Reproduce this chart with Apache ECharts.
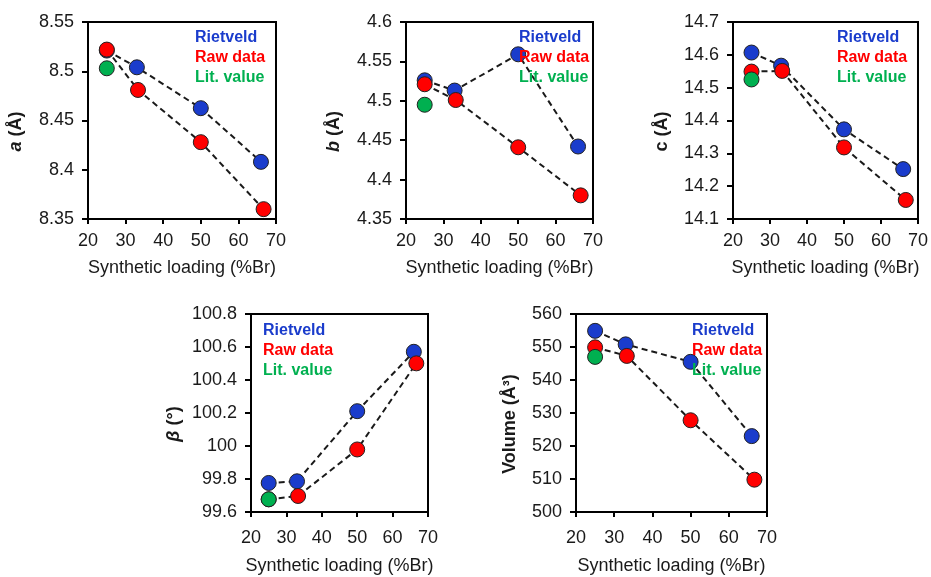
<!DOCTYPE html>
<html>
<head>
<meta charset="utf-8">
<script src="https://cdn.jsdelivr.net/npm/echarts@6/dist/echarts.min.js"></script>
<style>
  html, body { margin: 0; padding: 0; background: #fff; }
  #chart { width: 931px; height: 577px; }
</style>
</head>
<body>
<div id="chart"></div>
<script>
// ---- data ----
const rietX = [25, 33, 50, 66];
const rawX = [25, 33.3, 50, 66.7];
const litX = [25];

const aRiet = [8.521, 8.504, 8.4625, 8.408];
const aRaw = [8.522, 8.481, 8.428, 8.36];
const aLit = [8.503];

const bRiet = [4.526, 4.513, 4.559, 4.442];
const bRaw = [4.521, 4.501, 4.441, 4.38];
const bLit = [4.495];

const cRiet = [14.607, 14.567, 14.373, 14.252];
const cRaw = [14.549, 14.551, 14.318, 14.158];
const cLit = [14.525];

const betaRiet = [99.776, 99.786, 100.211, 100.571];
const betaRaw = [99.677, 99.697, 99.979, 100.501];
const betaLit = [99.677];

const volRiet = [554.9, 550.8, 545.5, 523.0];
const volRaw = [549.9, 547.3, 527.8, 509.8];
const volLit = [547.0];

const seriesNames = ['Rietveld', 'Raw data', 'Lit. value'];
const xAxisTitle = 'Synthetic loading (%Br)';

// ---- style ----
const FONT = '"Liberation Sans", Arial, sans-serif';
const COLORS = ['#1a3ccc', '#ff0000', '#00b050'];
const TEXT = '#1a1a1a';

const panels = [
  { name: '{i|a} (Å)', riet: aRiet, raw: aRaw, lit: aLit, min: 8.35, max: 8.55, interval: 0.05,
    grid: { left: 88, top: 22, width: 188, height: 197 }, nameGap: 63, xNameGap: 40, xMargin: 13,
    legend: { left: 190, top: 30 } },
  { name: '{i|b} (Å)', riet: bRiet, raw: bRaw, lit: bLit, min: 4.35, max: 4.6, interval: 0.05,
    grid: { left: 406, top: 22, width: 187, height: 197 }, nameGap: 63, xNameGap: 40, xMargin: 13,
    legend: { left: 514, top: 30 } },
  { name: 'c (Å)', riet: cRiet, raw: cRaw, lit: cLit, min: 14.1, max: 14.7, interval: 0.1,
    grid: { left: 733, top: 22, width: 187, height: 197 }, nameGap: 62, xNameGap: 40, xMargin: 13,
    legend: { left: 832, top: 30 } },
  { name: '{i|β} (°)', riet: betaRiet, raw: betaRaw, lit: betaLit, min: 99.6, max: 100.8, interval: 0.2,
    grid: { left: 251, top: 314, width: 177, height: 198 }, nameGap: 68, xNameGap: 45, xMargin: 17,
    legend: { left: 258, top: 323 } },
  { name: 'Volume (Å³)', riet: volRiet, raw: volRaw, lit: volLit, min: 500, max: 560, interval: 10,
    grid: { left: 576, top: 314, width: 191, height: 198 }, nameGap: 57, xNameGap: 45, xMargin: 17,
    legend: { left: 687, top: 323 } }
];

const grid = [], xAxis = [], yAxis = [], series = [], legend = [];

panels.forEach((p, i) => {
  grid.push(Object.assign({
    show: true, borderColor: '#000', borderWidth: 2, backgroundColor: 'transparent'
  }, p.grid));

  xAxis.push({
    type: 'value', gridIndex: i, min: 20, max: 70, interval: 10,
    name: xAxisTitle, nameLocation: 'middle', nameGap: p.xNameGap,
    nameTextStyle: { fontFamily: FONT, fontSize: 18, color: TEXT },
    axisLine: { show: true, onZero: false, lineStyle: { color: '#000', width: 2 } },
    axisTick: { show: true, inside: false, length: 5, lineStyle: { color: '#000', width: 2 } },
    axisLabel: { fontFamily: FONT, fontSize: 18, color: TEXT, margin: p.xMargin },
    splitLine: { show: false }
  });

  yAxis.push({
    type: 'value', gridIndex: i, min: p.min, max: p.max, interval: p.interval,
    name: p.name, nameLocation: 'middle', nameGap: p.nameGap, nameRotate: 90,
    nameTextStyle: {
      fontFamily: FONT, fontSize: 18, fontWeight: 'bold', color: TEXT,
      padding: [0, 22, 0, 0],
      rich: { i: { fontFamily: FONT, fontSize: 18, fontWeight: 'bold', fontStyle: 'italic', color: TEXT } }
    },
    axisLine: { show: true, onZero: false, lineStyle: { color: '#000', width: 2 } },
    axisTick: { show: true, inside: false, length: 6, lineStyle: { color: '#000', width: 2 } },
    axisLabel: { fontFamily: FONT, fontSize: 18, color: TEXT, margin: 14 },
    splitLine: { show: false }
  });

  const sets = [[rietX, p.riet], [rawX, p.raw], [litX, p.lit]];
  sets.forEach((s, k) => {
    const pts = s[0].map((x, j) => [x, s[1][j]]);
    if (pts.length > 1) {
      series.push({
        type: 'line', name: seriesNames[k], xAxisIndex: i, yAxisIndex: i, data: pts,
        symbol: 'none', z: 1, silent: true,
        lineStyle: { color: '#1a1a1a', width: 2, type: [6, 4] }
      });
    }
    series.push({
      type: 'scatter', name: seriesNames[k], xAxisIndex: i, yAxisIndex: i, data: pts,
      symbol: 'circle', symbolSize: 15, z: 3 + k,
      itemStyle: { color: COLORS[k], borderColor: '#222', borderWidth: 1, opacity: 1 }
    });
  });

  legend.push({
    left: p.legend.left, top: p.legend.top, orient: 'vertical', padding: 0,
    itemWidth: 0, itemHeight: 14, itemGap: 4, selectedMode: false,
    textStyle: { fontFamily: FONT, fontSize: 16, fontWeight: 'bold' },
    data: seriesNames.map((n, k) => ({ name: n, icon: 'none', textStyle: { color: COLORS[k] } }))
  });
});

const chart = echarts.init(document.getElementById('chart'), null, { renderer: 'canvas' });
chart.setOption({
  backgroundColor: '#fff',
  animation: false,
  grid, xAxis, yAxis, series, legend
});
</script>
</body>
</html>
